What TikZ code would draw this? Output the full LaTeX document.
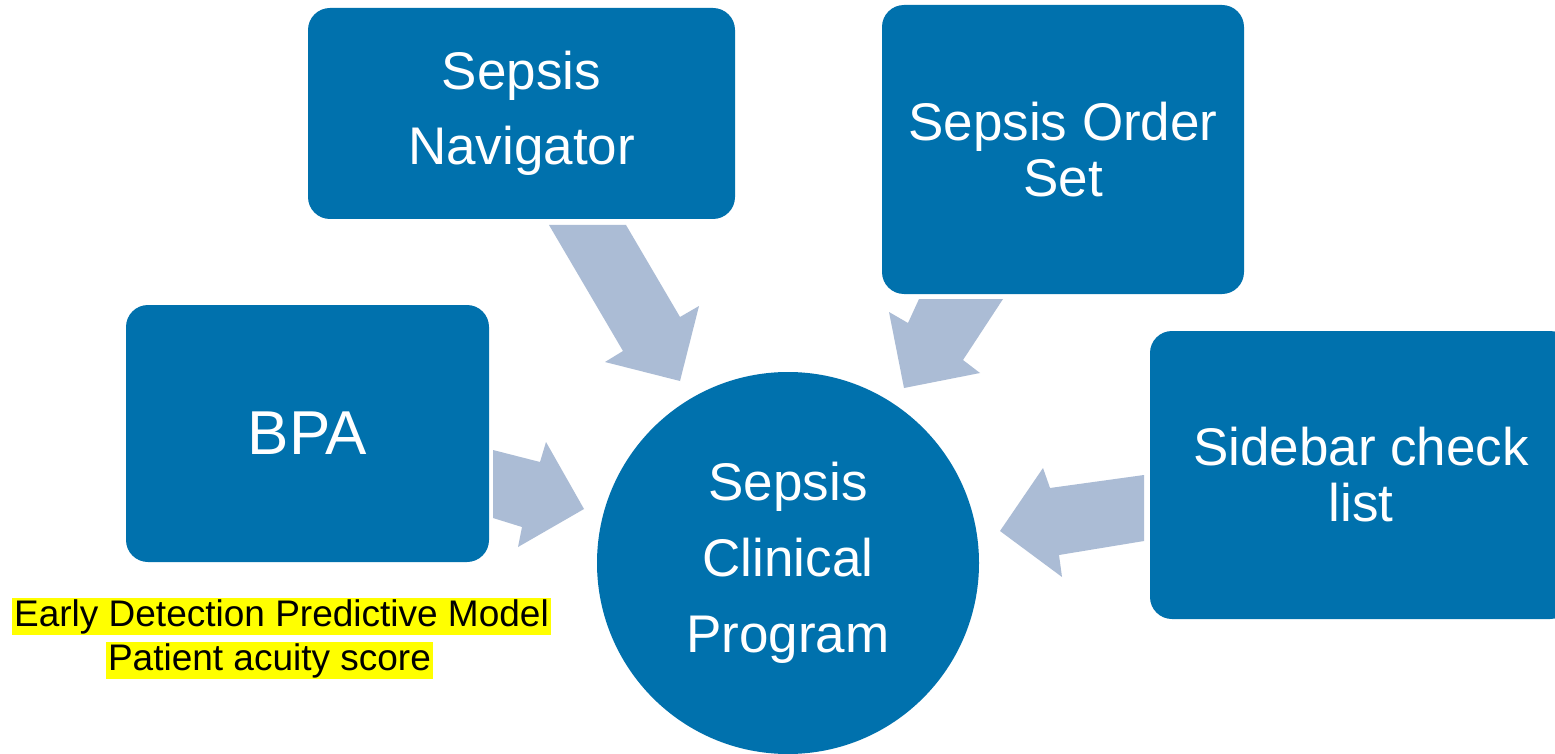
\documentclass[tikz,border=0pt]{standalone}
\usepackage{fontspec}
\setmainfont{Liberation Sans}
\definecolor{boxblue}{HTML}{0071AD}
\definecolor{arrowblue}{HTML}{ABBCD5}
\definecolor{hl}{HTML}{FFFF00}
\begin{document}
\begin{tikzpicture}[x=1pt,y=-1pt,
  box/.style={fill=boxblue, draw=none, rounded corners=22pt, text=white, align=center, inner sep=0pt},
  hub/.style={circle, fill=boxblue, draw=none, text=white, align=center, inner sep=0pt, minimum size=382pt},
  blockarrow/.style={fill=arrowblue, draw=none},
  note/.style={fill=hl, text=black, inner xsep=2pt, inner ysep=0pt, text height=29pt, text depth=8pt, font=\fontsize{37}{40}\selectfont}]
\clip (0,0) rectangle (1555,754);
\fill[white] (0,0) rectangle (1555,754);

% boxes
\node[box, minimum width=427pt, minimum height=211pt, font=\fontsize{53}{75}\selectfont] (nav) at (521.5,113.5) {Sepsis\\Navigator};
\node[box, minimum width=362pt, minimum height=289pt, font=\fontsize{53}{56}\selectfont] (order) at (1063,149.5) {Sepsis Order\\Set};
\node[box, minimum width=363pt, minimum height=257pt, font=\fontsize{62}{70}\selectfont] (bpa) at (307.5,433.5) {BPA};
\node[box, minimum width=422pt, minimum height=288pt, font=\fontsize{53}{56}\selectfont] (side) at (1361,475) {Sidebar check\\list};
\node[hub, font=\fontsize{53}{76}\selectfont] (hub) at (788,563) {Sepsis\\Clinical\\Program};

% block arrows
\fill[blockarrow] (549,225) -- (626,225) -- (680,317) -- (699,306) -- (680,381) -- (605,362) -- (623,351) -- cycle;
\fill[blockarrow] (919,299) -- (1003,299) -- (963,360) -- (980,373) -- (904,388) -- (889,312) -- (908,323) -- cycle;
\fill[blockarrow] (493,450) -- (540,462) -- (546,442) -- (584,509) -- (518,547) -- (522,527) -- (493,518) -- cycle;
\fill[blockarrow] (1144,475) -- (1050,488) -- (1043,468) -- (1000,531) -- (1062,577) -- (1059,555) -- (1144,541) -- cycle;

% highlighted note
\node[note] (n1) at (281.5,616) {Early Detection Predictive Model};
\node[note] (n2) at (269.5,660) {Patient acuity score};
\end{tikzpicture}
\end{document}
